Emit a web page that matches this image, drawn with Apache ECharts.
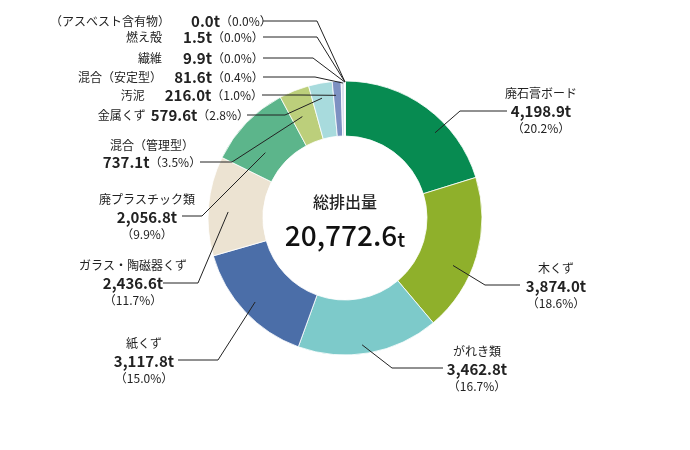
<!DOCTYPE html>
<html>
<head>
<meta charset="utf-8">
<script src="https://cdn.jsdelivr.net/npm/echarts@6/dist/echarts.min.js"></script>
<style>
  html, body { margin: 0; padding: 0; background: #fff; }
  #main { width: 690px; height: 450px; }
</style>
</head>
<body>
<div id="main"></div>
<script>
// 品目と排出量(t)
var names = ['廃石膏ボード', '木くず', 'がれき類', '紙くず', 'ガラス・陶磁器くず', '廃プラスチック類',
  '混合（管理型）', '金属くず', '汚泥', '混合（安定型）', '繊維', '燃え殻', '（アスベスト含有物）'];
var values = [4198.9, 3874.0, 3462.8, 3117.8, 2436.6, 2056.8, 737.1, 579.6, 216.0, 81.6, 9.9, 1.5, 0.0];
var colors = ['#078b51', '#8fb02b', '#7dcaca', '#4b6ea8', '#ece3d2', '#5cb58b', '#bccf7b',
  '#a8dbdd', '#7d91c2', '#d9e1ee', '#c8d2e4', '#c8d2e4', '#c8d2e4'];

var centerTitle = '総排出量';

// ラベルの置き場所 [種類, x, y, 折れ点x, 折れ点y, 線の終点x, 扇の中の半径, 扇の中の位置(0-1), 間隔]
var labelPos = [
  ['c', 541, 111, 460, 111, 507, 124, 0.64, 0],
  ['c', 556, 286, 485, 285, 520, 118, 0.61, 0],
  ['c', 477, 369, 392, 368, 443, 128, 0.54, 0],
  ['c', 144, 361, 218, 360, 178, 123, 0.50, 0],
  ['c', 133, 283, 198, 283, 163, 117, 0.45, 0],
  ['c', 147, 217, 202, 216, 182, 103, 0.37, 0],
  ['m', 152, 154, 232, 162, 200, 110, 0.42, 0],
  ['s', 249, 115, 285, 115, 247, 122, 0.45, 5],
  ['s', 263, 95, 300, 95, 262, 123, 0.30, 20],
  ['t', 50, 77, 315, 77, 263, 135, 0.5, 0],
  ['t', 50, 58, 313, 58, 263, 136, 0.5, 0],
  ['t', 50, 37, 317, 37, 263, 136, 0.5, 0],
  ['t', 50, 21, 317, 21, 263, 136, 0.5, 0]
];

var cx = 345, cy = 218;
var font = '"Noto Sans CJK JP", "Noto Sans", sans-serif';

var total = 0;
values.forEach(function (v) { total += v; });

function fmt(v) {
  var s = v.toFixed(1).split('.');
  return s[0].replace(/\B(?=(\d{3})+(?!\d))/g, ',') + '.' + s[1];
}

// 表の列をそろえるための文字幅
var ctx = document.createElement('canvas').getContext('2d');
function textW(str, size, weight) {
  ctx.font = (weight || 'normal') + ' ' + size + 'px ' + font;
  return ctx.measureText(str).width;
}

// 扇の中の点（データから角度を出す）
var startDeg = [];
var acc = 0;
values.forEach(function (v) {
  startDeg.push(acc / total * 360);
  acc += v;
});
function innerPoint(i) {
  var p = labelPos[i];
  var a = (startDeg[i] + values[i] / total * 360 * p[7]) * Math.PI / 180;
  return [cx + p[6] * Math.sin(a), cy - p[6] * Math.cos(a)];
}

var rich = {
  n: { fontSize: 12, lineHeight: 17, color: '#222', fontFamily: font },
  v: { fontSize: 15, lineHeight: 18, fontWeight: 'bold', color: '#222', fontFamily: font },
  p: { fontSize: 12, lineHeight: 17, color: '#222', fontFamily: font },
  g5: { width: 5 },
  g20: { width: 20 }
};
// 表形式の行は名前を右寄せ、数値を右寄せ
labelPos.forEach(function (p, i) {
  if (p[0] !== 't') return;
  var v = fmt(values[i]) + 't';
  rich['tn' + i] = { fontSize: 12, lineHeight: 18, color: '#222', fontFamily: font,
    padding: [0, 0, 0, Math.max(0, 112 - textW(names[i], 12))] };
  rich['tv' + i] = { fontSize: 15, lineHeight: 18, fontWeight: 'bold', color: '#222', fontFamily: font,
    padding: [0, 0, 0, Math.max(0, 50 - textW(v, 15, 'bold'))] };
});
rich.tp = { fontSize: 12, lineHeight: 18, color: '#222', fontFamily: font };

var chart = echarts.init(document.getElementById('main'));

var pieData = names.map(function (n, i) {
  return { name: n, value: values[i], itemStyle: { color: colors[i] } };
});

var option = {
  backgroundColor: '#fff',
  animation: false,
  textStyle: { fontFamily: font },
  graphic: [
    {
      type: 'text', x: cx, y: 202,
      style: { text: centerTitle, fill: '#222', font: '500 16px ' + font, align: 'center', verticalAlign: 'middle' }
    },
    {
      type: 'text', x: cx, y: 233,
      style: {
        text: '{a|' + fmt(total) + '}{b|t}', align: 'center', verticalAlign: 'middle',
        rich: {
          a: { fontSize: 28, fontWeight: 500, fontFamily: font, fill: '#111', color: '#111', lineHeight: 32, verticalAlign: 'bottom' },
          b: { fontSize: 20, fontWeight: 500, fontFamily: font, fill: '#111', color: '#111', lineHeight: 28, verticalAlign: 'bottom' }
        }
      }
    }
  ],
  series: [
    {
      // 扇
      type: 'pie',
      z: 2,
      center: [cx, cy],
      radius: [82, 137],
      startAngle: 90,
      clockwise: true,
      silent: true,
      emphasis: { disabled: true },
      itemStyle: { borderColor: '#fff', borderWidth: 0.8 },
      label: { show: false },
      labelLine: { show: false },
      data: pieData
    },
    {
      // ラベルと引き出し線（扇の上に描く）
      type: 'pie',
      z: 5,
      center: [cx, cy],
      radius: [82, 137],
      startAngle: 90,
      clockwise: true,
      silent: true,
      avoidLabelOverlap: false,
      emphasis: { disabled: true },
      itemStyle: { color: 'rgba(0,0,0,0)', borderWidth: 0 },
      data: names.map(function (n, i) { return { name: n, value: values[i] }; }),
      label: {
        show: true,
        position: 'outside',
        color: '#222',
        fontFamily: font,
        formatter: function (p) {
          var i = p.dataIndex;
          var kind = labelPos[i][0];
          var v = fmt(values[i]) + 't';
          var pct = '（' + (values[i] / total * 100).toFixed(1) + '%）';
          if (kind === 'c') return '{n|' + names[i] + '}\n{v|' + v + '}\n{p|' + pct + '}';
          if (kind === 'm') return '{n|' + names[i] + '}\n{v|' + v + '}{p|' + pct + '}';
          if (kind === 't') return '{tn' + i + '|' + names[i] + '}{tv' + i + '|' + v + '}{tp|' + pct + '}';
          return '{n|' + names[i] + '}{g' + labelPos[i][8] + '|}{v|' + v + '}{p|' + pct + '}';
        },
        rich: rich
      },
      labelLine: {
        show: true,
        lineStyle: { color: '#222', width: 1 }
      },
      labelLayout: function (params) {
        var i = params.dataIndex;
        var p = labelPos[i];
        var kind = p[0];
        return {
          x: p[1],
          y: p[2],
          align: kind === 's' ? 'right' : (kind === 't' ? 'left' : 'center'),
          verticalAlign: 'middle',
          labelLinePoints: [innerPoint(i), [p[3], p[4]], [p[5], p[4]]]
        };
      }
    }
  ]
};

chart.setOption(option);
</script>
</body>
</html>
